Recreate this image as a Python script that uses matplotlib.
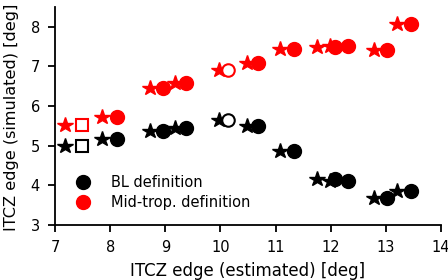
import matplotlib
matplotlib.use("Agg")
import matplotlib.pyplot as plt
from matplotlib.lines import Line2D

# Data
x_star = [7.18, 7.86, 8.73, 9.17, 9.97, 10.49, 11.08, 11.76, 11.98, 12.79, 13.20]
x_circ = [7.49, 8.12, 8.96, 9.37, 10.13, 10.68, 11.33, 12.08, 12.32, 13.02, 13.45]
y_bl = [5.00, 5.18, 5.37, 5.45, 5.66, 5.50, 4.88, 4.16, 4.10, 3.68, 3.87]
y_mid = [5.52, 5.73, 6.45, 6.59, 6.91, 7.10, 7.44, 7.49, 7.52, 7.41, 8.07]
# index 0 -> open square marker, index 4 -> open circle marker
open_square_idx = 0
open_circle_idx = 4

fig = plt.figure(figsize=(4.48, 2.8), dpi=100)
ax = fig.add_axes([0.123, 0.196, 0.861, 0.779])

for ys, col in [(y_bl, 'black'), (y_mid, 'red')]:
    ax.plot(x_star, ys, linestyle='none', marker='*', color=col, markersize=11.5, zorder=3)
    for i, (xc, yc) in enumerate(zip(x_circ, ys)):
        if i == open_square_idx:
            ax.plot(xc, yc, linestyle='none', marker='s', markersize=9, markerfacecolor='white',
                    markeredgecolor=col, markeredgewidth=1.5, zorder=4)
        elif i == open_circle_idx:
            ax.plot(xc, yc, linestyle='none', marker='o', markersize=9, markerfacecolor='white',
                    markeredgecolor=col, markeredgewidth=1.5, zorder=4)
        else:
            ax.plot(xc, yc, linestyle='none', marker='o', markersize=10, color=col, zorder=4)

ax.set_xlim(7, 14)
ax.set_ylim(3, 8.5)
ax.set_xticks([7, 8, 9, 10, 11, 12, 13, 14])
ax.set_yticks([3, 4, 5, 6, 7, 8])
ax.spines['top'].set_visible(False)
ax.spines['right'].set_visible(False)
for s in ['left', 'bottom']:
    ax.spines[s].set_linewidth(1.3)
ax.tick_params(direction='out', length=5, width=1.3, labelsize=10.5)
ax.tick_params(axis='x', pad=6)
ax.tick_params(axis='y', pad=6)
ax.set_xlabel('ITCZ edge (estimated) [deg]', fontsize=12)
ax.set_ylabel('ITCZ edge (simulated) [deg]', fontsize=11.6)
ax.xaxis.set_label_coords(0.5, -0.168)
ax.yaxis.set_label_coords(-0.094, 0.495)

handles = [Line2D([], [], linestyle='none', marker='o', color='black', markersize=10),
           Line2D([], [], linestyle='none', marker='o', color='red', markersize=10)]
ax.legend(handles, ['BL definition', 'Mid-trop. definition'], loc='upper left',
          bbox_to_anchor=(0.0, 0.29), frameon=False, fontsize=10.5, handletextpad=0.9,
          labelspacing=0.35)

fig.savefig('out.png', dpi=100)
